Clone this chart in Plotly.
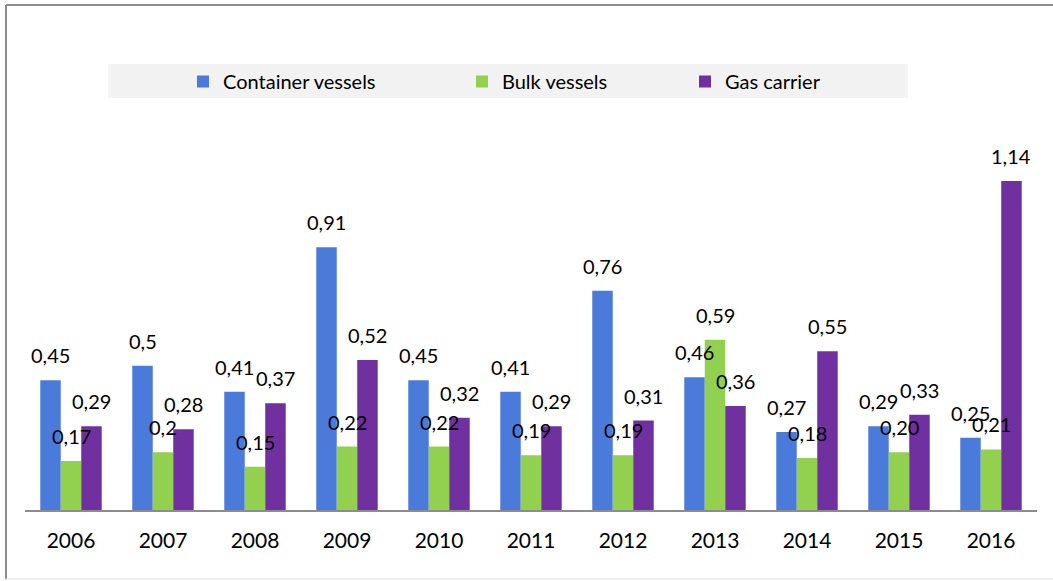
import plotly.graph_objects as go

years = ["2006", "2007", "2008", "2009", "2010", "2011", "2012", "2013", "2014", "2015", "2016"]
container = [0.45, 0.50, 0.41, 0.91, 0.45, 0.41, 0.76, 0.46, 0.27, 0.29, 0.25]
bulk = [0.17, 0.20, 0.15, 0.22, 0.22, 0.19, 0.19, 0.59, 0.18, 0.20, 0.21]
gas = [0.29, 0.28, 0.37, 0.52, 0.32, 0.29, 0.31, 0.36, 0.55, 0.33, 1.14]

# label texts as printed (some keep a trailing zero, some not)
container_txt = ["0,45", "0,5", "0,41", "0,91", "0,45", "0,41", "0,76", "0,46", "0,27", "0,29", "0,25"]
bulk_txt = ["0,17", "0,2", "0,15", "0,22", "0,22", "0,19", "0,19", "0,59", "0,18", "0,20", "0,21"]
gas_txt = ["0,29", "0,28", "0,37", "0,52", "0,32", "0,29", "0,31", "0,36", "0,55", "0,33", "1,14"]

series = [
    ("Container vessels", container, container_txt, "#4a7bdb", "legend"),
    ("Bulk vessels", bulk, bulk_txt, "#92d050", "legend2"),
    ("Gas carrier", gas, gas_txt, "#7030a0", "legend3"),
]

FONT = "Lato, 'Open Sans', sans-serif"
BARGAP = 0.332
bar_w = (1 - BARGAP) / 3

fig = go.Figure()
annotations = []
for j, (name, vals, txt, color, leg) in enumerate(series):
    fig.add_trace(go.Bar(
        name=name, x=years, y=vals, marker_color=color,
        marker_line_width=0, legend=leg, showlegend=True,
    ))
    off = (j - 1) * bar_w
    for i, (v, t) in enumerate(zip(vals, txt)):
        annotations.append(dict(
            x=i + off, y=v, xref="x", yref="y", text=t, showarrow=False,
            yanchor="bottom", yshift=11,
            font=dict(family=FONT, size=20, color="#000000"),
        ))

# plot area: x 25..1037 px, y 40..510 px
L, R, T, B = 25, 16, 40, 71
W, H = 1053 - L - R, 581 - T - B


def px(xp):
    return (xp - L) / W


def py(yp):
    return (T + H - yp) / H


legend_style = dict(
    orientation="h", yanchor="middle", xanchor="left", y=py(81.5),
    bgcolor="rgba(0,0,0,0)", borderwidth=0, visible=True,
    font=dict(family=FONT, size=20, color="#000000"),
)

shapes = [
    # legend band
    dict(type="rect", xref="paper", yref="paper", x0=px(108), x1=px(908),
         y0=py(98), y1=py(64), fillcolor="#f2f2f2", line_width=0, layer="below"),
    # chart frame
    dict(type="line", xref="paper", yref="paper", x0=px(6), x1=px(6),
         y0=py(579), y1=py(5), line=dict(color="#8c8c8c", width=2)),
    dict(type="line", xref="paper", yref="paper", x0=px(6), x1=px(1060),
         y0=py(5), y1=py(5), line=dict(color="#8c8c8c", width=2)),
    dict(type="line", xref="paper", yref="paper", x0=px(6), x1=px(1060),
         y0=py(579), y1=py(579), line=dict(color="#dcdcdc", width=1)),
]

fig.update_layout(
    width=1053, height=581,
    margin=dict(l=L, r=R, t=T, b=B, autoexpand=False),
    paper_bgcolor="#ffffff", plot_bgcolor="#ffffff",
    barmode="group", bargap=BARGAP, bargroupgap=0,
    showlegend=True,
    legend=dict(x=px(183), **legend_style),
    legend2=dict(x=px(462), **legend_style),
    legend3=dict(x=px(685), **legend_style),
    annotations=annotations,
    shapes=shapes,
    xaxis=dict(
        type="category", showline=True, linecolor="#8c8c8c", linewidth=2,
        ticks="", showgrid=False, ticklabelstandoff=11,
        tickfont=dict(family=FONT, size=21, color="#000000"),
    ),
    yaxis=dict(
        range=[0, H / 288.6], showticklabels=False, showgrid=False,
        zeroline=False, showline=False, ticks="",
    ),
)

fig.write_html("out.html")
